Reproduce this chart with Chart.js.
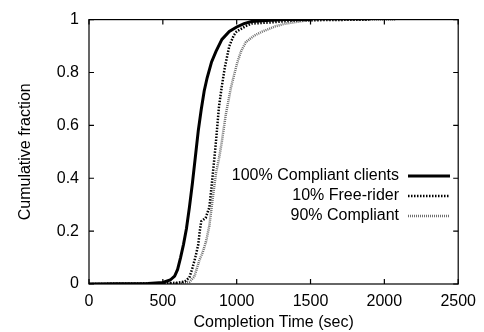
<!DOCTYPE html>
<html>
<head>
<meta charset="utf-8">
<script src="https://cdn.jsdelivr.net/npm/chart.js@4/dist/chart.umd.min.js"></script>
<style>
  html, body { margin: 0; padding: 0; background: #fff; }
  #wrap { width: 484px; height: 332px; }
</style>
</head>
<body>
<div id="wrap"><canvas id="c" width="484" height="332"></canvas></div>
<script>
// ---- Data ----
const seriesLabels = ["100% Compliant clients", "10% Free-rider", "90% Compliant"];

const compliantTime = [0, 400, 500, 550, 580, 600, 620, 640, 660, 680, 700, 720, 740, 760, 780, 800, 830, 860, 900, 950, 1000, 1050, 1100, 1200, 1330, 1500];
const compliantFrac = [0, 0.002, 0.006, 0.015, 0.03, 0.055, 0.1, 0.15, 0.21, 0.29, 0.38, 0.48, 0.58, 0.66, 0.73, 0.78, 0.84, 0.88, 0.925, 0.955, 0.972, 0.985, 0.993, 0.997, 1.0, 1.0];

const freeRiderTime = [0, 500, 600, 650, 680, 700, 720, 740, 750, 760, 790, 815, 830, 848, 860, 880, 900, 920, 950, 980, 1000, 1060, 1100, 1250, 1400, 1900];
const freeRiderFrac = [0, 0.002, 0.005, 0.01, 0.025, 0.06, 0.1, 0.15, 0.2, 0.237, 0.25, 0.29, 0.37, 0.47, 0.54, 0.67, 0.75, 0.82, 0.9, 0.94, 0.955, 0.975, 0.985, 0.99, 0.997, 1.0];

const mixedTime = [0, 600, 680, 713, 747, 770, 792, 815, 837, 860, 882, 900, 926, 960, 1005, 1030, 1062, 1120, 1175, 1264, 1332, 1450, 1550, 2080];
const mixedFrac = [0, 0.002, 0.008, 0.027, 0.089, 0.12, 0.16, 0.22, 0.32, 0.42, 0.48, 0.54, 0.64, 0.74, 0.84, 0.88, 0.915, 0.94, 0.955, 0.975, 0.985, 0.995, 1.0, 1.0];

const xTicks = [0, 500, 1000, 1500, 2000, 2500];
const yTicks = [0, 0.2, 0.4, 0.6, 0.8, 1];

const FONT = "'Liberation Sans', Arial, Helvetica, sans-serif";

function pts(xs, ys) { return xs.map((x, i) => ({ x: x, y: ys[i] })); }

const styles = [
  { color: '#000000', width: 3, dash: [] },
  { color: '#000000', width: 2.5, dash: [1.5, 1.5] },
  { color: '#6e6e6e', width: 2.5, dash: [1, 1] }
];

// Frame, inward ticks on all sides, and legend
const decor = {
  id: 'decor',
  afterDatasetsDraw(chart) {
    const { ctx, chartArea: a, scales } = chart;
    ctx.save();
    ctx.strokeStyle = '#000';
    ctx.lineWidth = 1.2;
    ctx.setLineDash([]);
    ctx.strokeRect(a.left, a.top, a.right - a.left, a.bottom - a.top);
    const tl = 5;
    ctx.beginPath();
    xTicks.forEach(v => {
      const px = scales.x.getPixelForValue(v);
      ctx.moveTo(px, a.bottom); ctx.lineTo(px, a.bottom - tl);
      ctx.moveTo(px, a.top); ctx.lineTo(px, a.top + tl);
    });
    yTicks.forEach(v => {
      const py = scales.y.getPixelForValue(v);
      ctx.moveTo(a.left, py); ctx.lineTo(a.left + tl, py);
      ctx.moveTo(a.right, py); ctx.lineTo(a.right - tl, py);
    });
    ctx.stroke();

    // legend (text right-aligned, then line sample)
    ctx.font = '16px ' + FONT;
    ctx.fillStyle = '#000';
    ctx.textAlign = 'right';
    ctx.textBaseline = 'middle';
    const textRight = 399, x0 = 408, x1 = 450;
    const rowY = [176, 196, 216];
    chart.data.datasets.forEach((ds, i) => {
      ctx.fillText(seriesLabels[i], textRight, rowY[i]);
      ctx.beginPath();
      ctx.strokeStyle = styles[i].color;
      ctx.lineWidth = styles[i].width;
      ctx.setLineDash(styles[i].dash);
      ctx.moveTo(x0, rowY[i]); ctx.lineTo(x1, rowY[i]);
      ctx.stroke();
    });
    ctx.restore();
  }
};

const datasets = [
  pts(compliantTime, compliantFrac),
  pts(freeRiderTime, freeRiderFrac),
  pts(mixedTime, mixedFrac)
].map((d, i) => ({
  label: seriesLabels[i],
  data: d,
  borderColor: styles[i].color,
  borderWidth: styles[i].width,
  borderDash: styles[i].dash,
  pointRadius: 0,
  fill: false,
  tension: 0,
  order: i
}));

new Chart(document.getElementById('c'), {
  type: 'line',
  data: { datasets: datasets },
  plugins: [decor],
  options: {
    responsive: false,
    animation: false,
    devicePixelRatio: 1,
    layout: { padding: { left: 0, right: 24, top: 14, bottom: 0 } },
    plugins: { legend: { display: false }, tooltip: { enabled: false } },
    scales: {
      x: {
        type: 'linear',
        min: 0, max: 2500,
        afterBuildTicks: s => { s.ticks = xTicks.map(v => ({ value: v })); },
        ticks: { color: '#000', font: { family: FONT, size: 16 }, padding: 8, maxRotation: 0, callback: v => String(v) },
        grid: { display: false, drawTicks: false },
        border: { display: false },
        afterFit: s => { s.height = 48; },
        title: { display: true, text: 'Completion Time (sec)', color: '#000', font: { family: FONT, size: 16 }, padding: { top: 0, bottom: 0 } }
      },
      y: {
        type: 'linear',
        min: 0, max: 1,
        afterBuildTicks: s => { s.ticks = yTicks.map(v => ({ value: v })); },
        ticks: { color: '#000', font: { family: FONT, size: 16 }, padding: 10, callback: v => String(+v.toFixed(1)) },
        grid: { display: false, drawTicks: false },
        border: { display: false },
        afterFit: s => { s.width = 89; },
        title: { display: true, text: 'Cumulative fraction', color: '#000', font: { family: FONT, size: 16 }, padding: { top: 16, bottom: 0 } }
      }
    }
  }
});
</script>
</body>
</html>
